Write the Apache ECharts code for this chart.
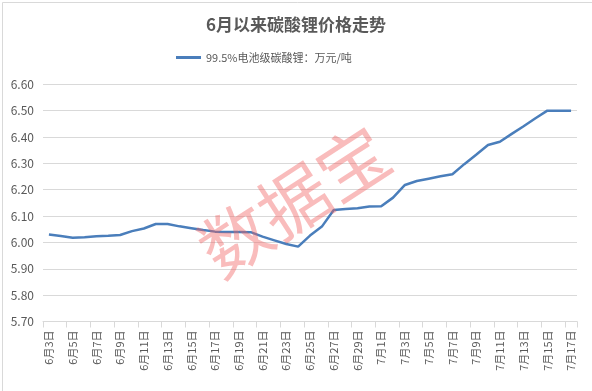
<!DOCTYPE html>
<html><head><meta charset="utf-8">
<script src="https://cdn.jsdelivr.net/npm/echarts@6/dist/echarts.min.js"></script>
<style>html,body{margin:0;padding:0;background:#fff}#c{width:592px;height:391px}</style>
</head><body><div id="c"></div><script>
const categories = ["6月3日","6月4日","6月5日","6月6日","6月7日","6月8日","6月9日","6月10日","6月11日","6月12日","6月13日","6月14日","6月15日","6月16日","6月17日","6月18日","6月19日","6月20日","6月21日","6月22日","6月23日","6月24日","6月25日","6月26日","6月27日","6月28日","6月29日","6月30日","7月1日","7月2日","7月3日","7月4日","7月5日","7月6日","7月7日","7月8日","7月9日","7月10日","7月11日","7月12日","7月13日","7月14日","7月15日","7月16日","7月17日"];
const priceValues = [6.030,6.024,6.018,6.020,6.023,6.025,6.028,6.043,6.053,6.070,6.070,6.061,6.054,6.047,6.041,6.040,6.040,6.039,6.022,6.008,5.994,5.984,6.026,6.060,6.123,6.127,6.130,6.136,6.137,6.170,6.218,6.233,6.242,6.251,6.259,6.297,6.333,6.370,6.382,6.412,6.441,6.471,6.500,6.500,6.500];
const seriesName = "99.5%电池级碳酸锂：万元/吨";
const titleText = "6月以来碳酸锂价格走势";
const yMin = 5.7, yMax = 6.6, yStep = 0.1;

const chart = echarts.init(document.getElementById('c'), null, {renderer:'canvas'});
const txt = '#595959';
const font = '"Noto Sans CJK SC","Noto Sans",sans-serif';
chart.setOption({
  animation:false,
  backgroundColor:'#fff',
  title:{text:titleText,left:'center',top:11,textStyle:{fontSize:17,fontWeight:'bold',color:txt,fontFamily:font}},
  legend:{top:47,left:171,icon:'rect',itemWidth:25,itemHeight:3,itemGap:4,
    textStyle:{fontSize:11,color:txt,fontFamily:font},data:[seriesName]},
  grid:{left:43,right:15,top:84.3,bottom:69.5},
  xAxis:{type:'category',data:categories,boundaryGap:true,
    axisLine:{lineStyle:{color:'#d9d9d9'}},
    axisTick:{show:true,interval:1,length:6,lineStyle:{color:'#d9d9d9'}},
    axisLabel:{interval:1,rotate:90,margin:9,fontSize:11,color:txt,fontFamily:font}},
  yAxis:{type:'value',min:yMin,max:yMax,interval:yStep,
    axisLine:{show:false},axisTick:{show:false},
    axisLabel:{fontSize:12,color:txt,margin:9,fontFamily:font,formatter:v=>v.toFixed(2)},
    splitLine:{lineStyle:{color:'#d9d9d9'}}},
  series:[{name:seriesName,type:'line',data:priceValues,showSymbol:false,symbol:'none',
    lineStyle:{width:2.5,color:'#4a7ebb'},itemStyle:{color:'#4a7ebb'}}],
  graphic:[
    {type:'rect',left:0,top:0,z:100,shape:{width:591,height:390},style:{fill:'none',stroke:'#d9d9d9',lineWidth:1},x:0.5,y:0.5},
    {type:'text',x:294,y:201,rotation:33*Math.PI/180,z:100,
      style:{text:'数据宝',fontSize:70,fontWeight:'normal',fontFamily:font,fill:'rgba(240,95,95,0.42)',textAlign:'center',textVerticalAlign:'middle'}}
  ]
});
</script></body></html>
